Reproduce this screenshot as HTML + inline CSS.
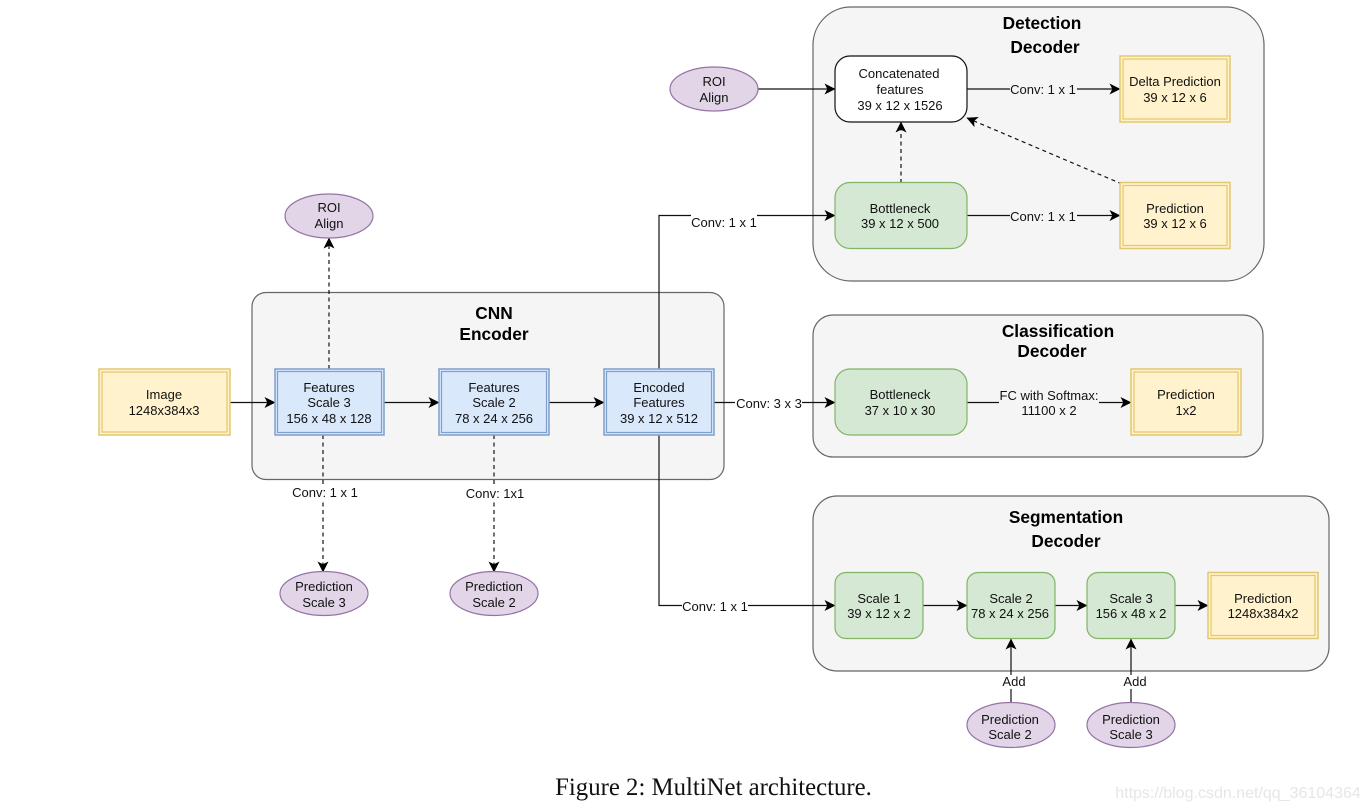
<!DOCTYPE html>
<html><head><meta charset="utf-8">
<style>
html,body{margin:0;padding:0;background:#fff;width:1369px;height:811px;overflow:hidden}
svg{display:block}
text{font-family:"Liberation Sans",sans-serif;font-size:13px;fill:#111;text-anchor:middle}
.t{font-weight:bold;font-size:17.300px;fill:#000}
.g{fill:#f5f5f5;stroke:#666;stroke-width:1.2}
.y{fill:#fff2cc;stroke:#e3c76f;stroke-width:1.5}
.yi{fill:none;stroke:#e3c76f;stroke-width:1.2}
.b{fill:#dae8fc;stroke:#7f9fcc;stroke-width:1.5}
.bi{fill:none;stroke:#7f9fcc;stroke-width:1.2}
.gr{fill:#d5e8d4;stroke:#82b366;stroke-width:1.2}
.p{fill:#e1d5e7;stroke:#9673a6;stroke-width:1.2}
.l{fill:none;stroke:#111;stroke-width:1.2}
.a{marker-end:url(#ah)}
.d{stroke-dasharray:4 3.5}
</style></head><body>
<svg width="1369" height="811" viewBox="0 0 1369 811" xmlns="http://www.w3.org/2000/svg">
<defs>
<marker id="ah" markerUnits="userSpaceOnUse" markerWidth="13" markerHeight="13" refX="10.500" refY="5.500" orient="auto" viewBox="0 0 13 13">
<path d="M0 0 L11 5.500 L0 11 L2.800 5.500 Z" fill="#000"/>
</marker>
</defs>

<!-- containers -->
<rect class="g" x="813" y="7" width="451" height="274" rx="38"/>
<rect class="g" x="252" y="292.500" width="472" height="187" rx="14"/>
<rect class="g" x="813" y="315" width="450" height="142" rx="20"/>
<rect class="g" x="813" y="496" width="516" height="175" rx="24"/>

<text class="t" x="1042" y="29">Detection</text>
<text class="t" x="1045" y="53">Decoder</text>
<text class="t" x="494" y="319">CNN</text>
<text class="t" x="494" y="340">Encoder</text>
<text class="t" x="1058" y="337">Classification</text>
<text class="t" x="1052" y="357">Decoder</text>
<text class="t" x="1066" y="523">Segmentation</text>
<text class="t" x="1066" y="547">Decoder</text>

<!-- connectors -->
<path class="l a" d="M230 402.500H275"/>
<path class="l a" d="M384 402.500H439"/>
<path class="l a" d="M549 402.500H604"/>
<path class="l a" d="M714 402.500H835"/>
<path class="l a" d="M659 369V215.500H835"/>
<path class="l a" d="M659 435V605.500H835"/>
<path class="l a" d="M758 89H835"/>
<path class="l a" d="M967 89H1120"/>
<path class="l a" d="M967 215.500H1120"/>
<path class="l a d" d="M901 183V122"/>
<path class="l a d" d="M1122 184L967 118" stroke-width="1"/>
<path class="l a d" d="M329 369V238"/>
<path class="l a d" d="M323 435V572"/>
<path class="l a d" d="M494 435V572"/>
<path class="l a" d="M967 402.500H1131"/>
<path class="l a" d="M923 605.500H967"/>
<path class="l a" d="M1055 605.500H1087"/>
<path class="l a" d="M1175 605.500H1208"/>
<path class="l a" d="M1011 702V639"/>
<path class="l a" d="M1131 702V639"/>

<!-- connector labels -->
<rect x="1010" y="82" width="67" height="14" fill="#f5f5f5"/>
<text x="1043" y="94">Conv: 1 x 1</text>
<rect x="1010" y="209" width="67" height="14" fill="#f5f5f5"/>
<text x="1043" y="221">Conv: 1 x 1</text>
<rect x="691" y="214" width="66" height="16" fill="#fff"/>
<text x="724" y="227">Conv: 1 x 1</text>
<rect x="735" y="396" width="67" height="14" fill="#fff"/>
<text x="769" y="408">Conv: 3 x 3</text>
<rect x="682" y="599" width="66" height="14" fill="#fff"/>
<text x="715" y="611">Conv: 1 x 1</text>
<rect x="292" y="486" width="66" height="14" fill="#fff"/>
<text x="325" y="497">Conv: 1 x 1</text>
<rect x="466" y="487" width="58" height="14" fill="#fff"/>
<text x="495" y="498">Conv: 1x1</text>
<rect x="999" y="388" width="100" height="30" fill="#f5f5f5"/>
<text x="1049" y="400">FC with Softmax:</text>
<text x="1049" y="415">11100 x 2</text>
<rect x="1001" y="675" width="26" height="14" fill="#fff"/>
<text x="1014" y="686">Add</text>
<rect x="1122" y="675" width="26" height="14" fill="#fff"/>
<text x="1135" y="686">Add</text>

<!-- detection -->
<ellipse class="p" cx="714" cy="89" rx="44" ry="22"/>
<text x="714" y="86">ROI</text><text x="714" y="102">Align</text>
<rect x="835" y="56" width="132" height="66" rx="15" fill="#fff" stroke="#111" stroke-width="1.2"/>
<text x="899" y="78">Concatenated</text><text x="900" y="94">features</text><text x="900" y="110">39 x 12 x 1526</text>
<rect class="y" x="1120" y="56" width="110" height="66"/><rect class="yi" x="1123" y="59" width="104" height="60"/>
<text x="1175" y="86">Delta Prediction</text><text x="1175" y="102">39 x 12 x 6</text>
<rect class="gr" x="835" y="182.500" width="132" height="66" rx="15"/>
<text x="900" y="213">Bottleneck</text><text x="900" y="228">39 x 12 x 500</text>
<rect class="y" x="1120" y="182.500" width="110" height="66"/><rect class="yi" x="1123" y="185.500" width="104" height="60"/>
<text x="1175" y="213">Prediction</text><text x="1175" y="228">39 x 12 x 6</text>

<!-- encoder -->
<ellipse class="p" cx="329" cy="216" rx="44" ry="22"/>
<text x="329" y="212">ROI</text><text x="329" y="228">Align</text>
<rect class="y" x="99" y="369" width="131" height="66"/><rect class="yi" x="102" y="372" width="125" height="60"/>
<text x="164" y="399">Image</text><text x="164" y="415">1248x384x3</text>
<rect class="b" x="275" y="369" width="109" height="66"/><rect class="bi" x="277.500" y="371.500" width="104" height="61"/>
<text x="329" y="392">Features</text><text x="329" y="407">Scale 3</text><text x="329" y="423">156 x 48 x 128</text>
<rect class="b" x="439" y="369" width="110" height="66"/><rect class="bi" x="441.500" y="371.500" width="105" height="61"/>
<text x="494" y="392">Features</text><text x="494" y="407">Scale 2</text><text x="494" y="423">78 x 24 x 256</text>
<rect class="b" x="604" y="369" width="110" height="66"/><rect class="bi" x="606.500" y="371.500" width="105" height="61"/>
<text x="659" y="392">Encoded</text><text x="659" y="407">Features</text><text x="659" y="423">39 x 12 x 512</text>
<ellipse class="p" cx="324" cy="593.500" rx="44" ry="22"/>
<text x="324" y="591">Prediction</text><text x="324" y="607">Scale 3</text>
<ellipse class="p" cx="494" cy="593.500" rx="44" ry="22"/>
<text x="494" y="591">Prediction</text><text x="494" y="607">Scale 2</text>

<!-- classification -->
<rect class="gr" x="835" y="369" width="132" height="66" rx="15"/>
<text x="900" y="399">Bottleneck</text><text x="900" y="415">37 x 10 x 30</text>
<rect class="y" x="1131" y="369" width="110" height="66"/><rect class="yi" x="1134" y="372" width="104" height="60"/>
<text x="1186" y="399">Prediction</text><text x="1186" y="415">1x2</text>

<!-- segmentation -->
<rect class="gr" x="835" y="572.500" width="88" height="66" rx="11"/>
<text x="879" y="603">Scale 1</text><text x="879" y="618">39 x 12 x 2</text>
<rect class="gr" x="967" y="572.500" width="88" height="66" rx="11"/>
<text x="1011" y="603">Scale 2</text><text x="1010" y="618">78 x 24 x 256</text>
<rect class="gr" x="1087" y="572.500" width="88" height="66" rx="11"/>
<text x="1131" y="603">Scale 3</text><text x="1131" y="618">156 x 48 x 2</text>
<rect class="y" x="1208" y="572.500" width="110" height="66"/><rect class="yi" x="1211" y="575.500" width="104" height="60"/>
<text x="1263" y="603">Prediction</text><text x="1263" y="618">1248x384x2</text>
<ellipse class="p" cx="1011" cy="725" rx="44" ry="22.500"/>
<text x="1010" y="724">Prediction</text><text x="1010" y="739">Scale 2</text>
<ellipse class="p" cx="1131" cy="725" rx="44" ry="22.500"/>
<text x="1131" y="724">Prediction</text><text x="1131" y="739">Scale 3</text>

<!-- caption -->
<text x="713.500" y="795" style="font-family:'Liberation Serif',serif;font-size:24.800px;fill:#111">Figure 2: MultiNet architecture.</text>
<text x="1238" y="798" style="font-size:16px;fill:#e6e6e6">https://blog.csdn.net/qq_36104364</text>
</svg>
</body></html>
